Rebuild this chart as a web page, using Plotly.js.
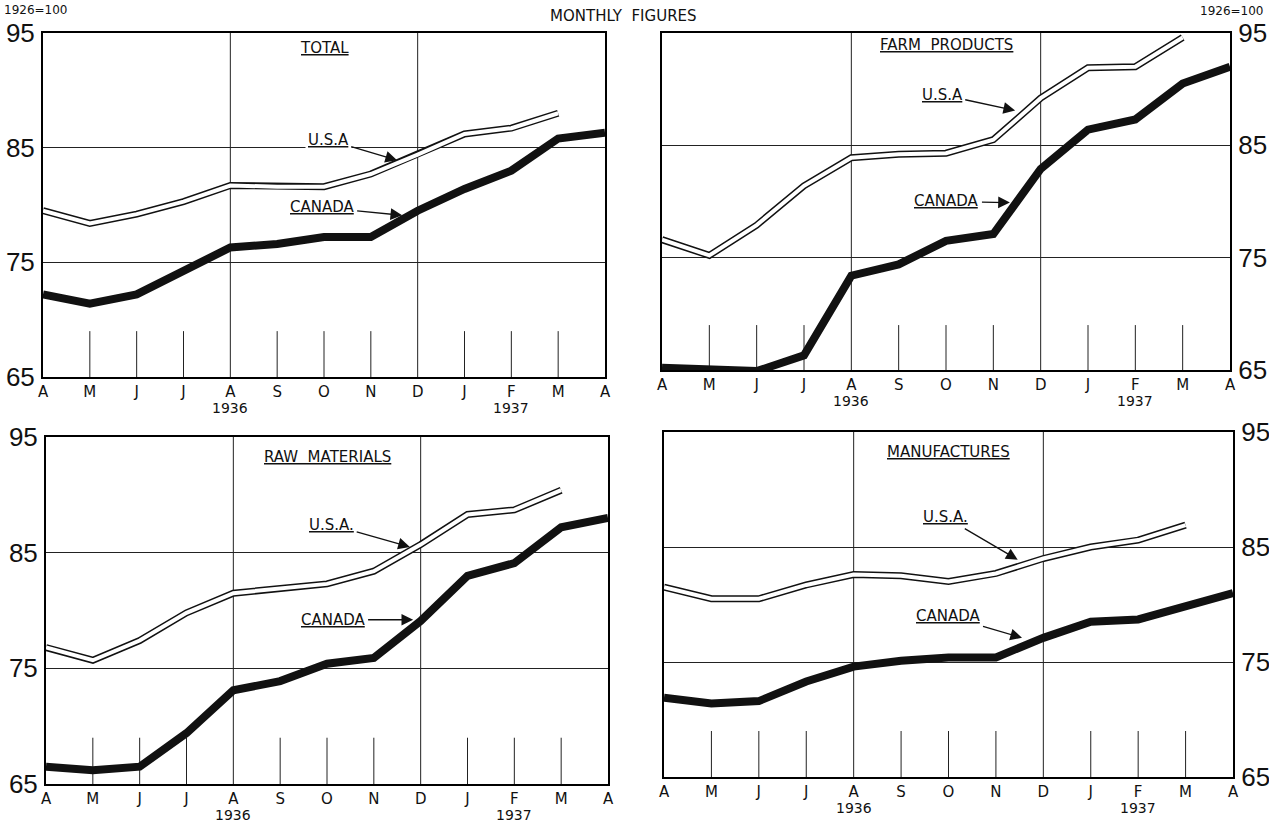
<!DOCTYPE html>
<html>
<head>
<meta charset="utf-8">
<script src="https://cdn.plot.ly/plotly-3.0.1.min.js"></script>
<style>html,body{margin:0;padding:0;background:#fff;}#chart{width:1269px;height:828px;}</style>
</head>
<body>
<div id="chart"></div>
<script>
// ---- data (1926 = 100), April 1936 .. April 1937 ----
const months = ['A','M','J','J','A','S','O','N','D','J','F','M','A'];
const yearLabels = ['', '', '', '', '1936', '', '', '', '', '', '1937', '', ''];
const yTicks = [65, 75, 85, 95];

const totalCanada = [72.2, 71.4, 72.2, 74.3, 76.3, 76.6, 77.2, 77.2, 79.5, 81.4, 83.0, 85.8, 86.3];
const totalUSA    = [79.5, 78.4, 79.2, 80.3, 81.7, 81.6, 81.6, 82.7, 84.4, 86.2, 86.7, 88.0];

const farmCanada  = [65.2, 65.1, 64.9, 66.3, 73.4, 74.4, 76.5, 77.1, 82.9, 86.4, 87.3, 90.5, 92.0];
const farmUSA     = [76.6, 75.2, 77.9, 81.4, 83.9, 84.2, 84.3, 85.5, 89.2, 91.9, 92.0, 94.6];

const rawCanada   = [66.5, 66.2, 66.5, 69.4, 73.1, 73.9, 75.4, 75.9, 79.1, 83.0, 84.1, 87.2, 88.0];
const rawUSA      = [76.8, 75.7, 77.4, 79.8, 81.5, 81.9, 82.3, 83.4, 85.7, 88.3, 88.7, 90.4];

const mfgCanada   = [71.9, 71.4, 71.6, 73.3, 74.6, 75.1, 75.4, 75.4, 77.1, 78.5, 78.7, 79.9, 81.0];
const mfgUSA      = [81.5, 80.5, 80.5, 81.7, 82.6, 82.5, 82.0, 82.7, 84.0, 85.0, 85.6, 86.9];

const panelTitles = ['TOTAL', 'FARM  PRODUCTS', 'RAW  MATERIALS', 'MANUFACTURES'];
const fullGridMonths = [4, 8];   // August and December
// ---------------------------------------------------------

const W = 1269, H = 828;
const panels = [
  {title: panelTitles[0], can: totalCanada, usa: totalUSA, px: [43, 605],  py: [33, 377], side: 'left',
   usaLab: [6.09, 85.7], usaTip: [7.56, 83.9], canLab: [5.96, 79.8], canTip: [7.67, 79.1], titleY: 93.7},
  {title: panelTitles[1], can: farmCanada, usa: farmUSA, px: [662, 1230], py: [33, 370], side: 'right',
   usaLab: [5.92, 89.5], usaTip: [7.46, 88.1], canLab: [6.02, 80.0], canTip: [7.35, 79.9], titleY: 93.9},
  {title: panelTitles[2], can: rawCanada, usa: rawUSA, px: [46, 608], py: [437, 784], side: 'left',
   usaLab: [6.10, 87.4], usaTip: [7.77, 85.5], canLab: [6.13, 79.2], canTip: [7.84, 79.2], titleY: 93.3},
  {title: panelTitles[3], can: mfgCanada, usa: mfgUSA, px: [664, 1233], py: [432, 777], side: 'right',
   usaLab: [5.93, 87.6], usaTip: [7.46, 83.9], canLab: [5.99, 79.0], canTip: [7.55, 77.1], titleY: 93.3}
];

const FONT = 'DejaVu Sans, Liberation Sans, sans-serif';
const NUMFONT = 'Liberation Sans, Arial, sans-serif';

const data = [];
const layout = {
  width: W, height: H,
  margin: {l: 0, r: 0, t: 0, b: 0},
  paper_bgcolor: '#fff', plot_bgcolor: '#fff',
  showlegend: false,
  shapes: [], annotations: []
};

const xIdx = months.map((m, i) => i);

panels.forEach((p, k) => {
  const n = k === 0 ? '' : String(k + 1);
  const xa = 'x' + n, ya = 'y' + n;
  layout['xaxis' + n] = {
    domain: [p.px[0] / W, p.px[1] / W],
    anchor: ya, range: [0, months.length - 1],
    tickvals: xIdx, ticktext: months, ticks: '', showgrid: false, zeroline: false,
    showline: true, mirror: true, linecolor: '#000', linewidth: 2,
    tickfont: {family: FONT, size: 15, color: '#111'}, ticklabelstandoff: 0, fixedrange: true
  };
  layout['yaxis' + n] = {
    domain: [1 - p.py[1] / H, 1 - p.py[0] / H],
    anchor: xa, range: [65, 95], side: p.side,
    tickvals: yTicks, ticks: '', showgrid: true, gridcolor: '#222', gridwidth: 1, zeroline: false,
    showline: true, mirror: true, linecolor: '#000', linewidth: 2,
    tickfont: {family: NUMFONT, size: 26, color: '#111'}, ticklabelstandoff: 1, fixedrange: true
  };
  // year labels under the month letters
  yearLabels.forEach((yl, i) => {
    if (!yl) return;
    layout.annotations.push({xref: xa, yref: ya + ' domain', x: i, y: 0, yanchor: 'top', yshift: -22,
      text: yl, showarrow: false, borderpad: 0, font: {family: FONT, size: 14, color: '#111'}});
  });
  // full vertical grid lines
  fullGridMonths.forEach(i => layout.shapes.push({
    type: 'line', xref: xa, yref: ya + ' domain', x0: i, x1: i, y0: 0, y1: 1,
    line: {color: '#222', width: 1}, layer: 'below'
  }));
  // short month ticks
  xIdx.forEach(i => {
    if (i === 0 || i === months.length - 1 || fullGridMonths.includes(i)) return;
    layout.shapes.push({type: 'line', xref: xa, yref: ya, x0: i, x1: i, y0: 65, y1: 69,
      line: {color: '#222', width: 1}, layer: 'below'});
  });
  // USA: double line (black with white core)
  const ux = p.usa.map((v, i) => i);
  data.push({x: ux, y: p.usa, xaxis: xa, yaxis: ya, mode: 'lines', hoverinfo: 'skip',
    line: {color: '#111', width: 7}, name: 'U.S.A.'});
  data.push({x: ux, y: p.usa, xaxis: xa, yaxis: ya, mode: 'lines', hoverinfo: 'skip',
    line: {color: '#fff', width: 4}, showlegend: false});
  // Canada thick line
  data.push({x: p.can.map((v, i) => i), y: p.can, xaxis: xa, yaxis: ya, mode: 'lines', hoverinfo: 'skip',
    line: {color: '#111', width: 8}, name: 'CANADA'});

  // panel title
  layout.annotations.push({xref: xa, yref: ya, x: 6, y: p.titleY, text: p.title, showarrow: false,
    font: {family: FONT, size: 15, color: '#111', lineposition: 'under'}});
  // labels with arrows
  layout.annotations.push({xref: xa, yref: ya, axref: xa, ayref: ya,
    x: p.usaTip[0], y: p.usaTip[1], ax: p.usaLab[0], ay: p.usaLab[1],
    text: k === 0 || k === 1 ? 'U.S.A' : 'U.S.A.', showarrow: true, arrowhead: 2, arrowsize: 1.8, arrowwidth: 1.3,
    arrowcolor: '#111', bgcolor: '#fff', borderpad: 2,
    font: {family: FONT, size: 15, color: '#111', lineposition: 'under'}});
  layout.annotations.push({xref: xa, yref: ya, axref: xa, ayref: ya,
    x: p.canTip[0], y: p.canTip[1], ax: p.canLab[0], ay: p.canLab[1],
    text: 'CANADA', showarrow: true, arrowhead: 2, arrowsize: 1.8, arrowwidth: 1.3,
    arrowcolor: '#111', bgcolor: '#fff', borderpad: 2,
    font: {family: FONT, size: 15, color: '#111', lineposition: 'under'}});
});

// page-level texts
layout.annotations.push({xref: 'paper', yref: 'paper', x: 623 / W, y: 1 - 16 / H, xanchor: 'center', yanchor: 'middle',
  text: 'MONTHLY  FIGURES', showarrow: false, font: {family: FONT, size: 15, color: '#111'}});
layout.annotations.push({xref: 'paper', yref: 'paper', x: 36 / W, y: 1 - 10 / H, xanchor: 'center', yanchor: 'middle',
  text: '1926=100', showarrow: false, font: {family: FONT, size: 12, color: '#111'}});
layout.annotations.push({xref: 'paper', yref: 'paper', x: 1232 / W, y: 1 - 11 / H, xanchor: 'center', yanchor: 'middle',
  text: '1926=100', showarrow: false, font: {family: FONT, size: 12, color: '#111'}});

Plotly.newPlot('chart', data, layout, {staticPlot: true, displayModeBar: false});
</script>
</body>
</html>
